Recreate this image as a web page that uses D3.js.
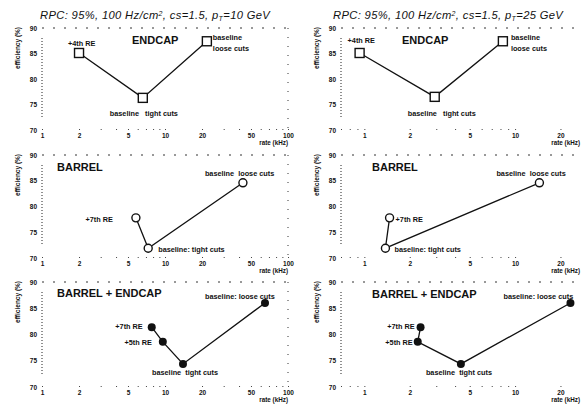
<!DOCTYPE html>
<html><head><meta charset="utf-8">
<script src="https://cdn.jsdelivr.net/npm/d3@7"></script>
<style>body{margin:0;background:#fff}svg{display:block}</style>
</head><body><svg id="c" width="582" height="408"></svg>
<script>
// ---- data ----
const titlesPt = ["10", "25"];
const xTicksLow = [1, 2, 5, 10, 20, 50, 100];
const xTicksHigh = [1, 2, 5, 10, 20];
const yTicks = [70, 75, 80, 85, 90];
const regionNames = ["ENDCAP", "BARREL", "BARREL + ENDCAP"];

const endcapLabels = ["+4th RE", "baseline   tight cuts", "baseline\nloose cuts"];
const endcap10Rate = [2.0, 6.6, 21.9];
const endcap10Eff = [85.1, 76.3, 87.4];
const endcap25Rate = [0.93, 2.93, 8.3];
const endcap25Eff = [85.1, 76.5, 87.4];

const barrelLabels = ["+7th RE", "baseline: tight cuts", "baseline  loose cuts"];
const barrel10Rate = [5.8, 7.3, 43];
const barrel10Eff = [77.8, 71.9, 84.6];
const barrel25Rate = [1.47, 1.38, 14.5];
const barrel25Eff = [77.8, 71.9, 84.6];

const combLabels = ["+7th RE", "+5th RE", "baseline  tight cuts", "baseline: loose cuts"];
const comb10Rate = [7.8, 9.6, 14.0, 65];
const comb10Eff = [81.4, 78.6, 74.4, 86.0];
const comb25Rate = [2.36, 2.26, 4.37, 23.3];
const comb25Eff = [81.4, 78.6, 74.4, 86.0];

// ---- layout ----
const colX = [[42, 288], [341, 587]];
const colDomain = [[1, 100], [0.7, 30]];
const colTicks = [xTicksLow, xTicksHigh];
const rowY = [[28, 130], [155, 258], [282, 387]];

const panels = [
  {col:0,row:0,rate:endcap10Rate,eff:endcap10Eff,labels:endcapLabels,marker:"square",
   off:[[-11,-7,"start"],[-33,18,"start"],[6,-1,"start"]],name:[90,16]},
  {col:1,row:0,rate:endcap25Rate,eff:endcap25Eff,labels:endcapLabels,marker:"square",
   off:[[-12,-10,"start"],[-27,19,"start"],[8,-1,"start"]],name:[61,16]},
  {col:0,row:1,rate:barrel10Rate,eff:barrel10Eff,labels:barrelLabels,marker:"circle",
   off:[[-23,4,"end"],[10,4,"start"],[-38,-7,"start"]],name:[15,16]},
  {col:1,row:1,rate:barrel25Rate,eff:barrel25Eff,labels:barrelLabels,marker:"circle",
   off:[[6,4,"start"],[9,4,"start"],[-43,-7,"start"]],name:[31,16]},
  {col:0,row:2,rate:comb10Rate,eff:comb10Eff,labels:combLabels,marker:"dot",
   off:[[-9,2,"end"],[-11,3,"end"],[-31,11,"start"],[-60,-4,"start"]],name:[15,15]},
  {col:1,row:2,rate:comb25Rate,eff:comb25Eff,labels:combLabels,marker:"dot",
   off:[[-6,2,"end"],[-5,3,"end"],[-35,11,"start"],[-67,-4,"start"]],name:[31,16]}
];

const svg = d3.select("#c");
const FONT = "'Liberation Sans', Arial, Helvetica, sans-serif";
const ink = "#111";

// titles
[0, 1].forEach(c => {
  const t = svg.append("text").attr("x", c === 0 ? 40 : 333).attr("y", 19)
    .attr("font-family", FONT).attr("font-style", "italic").attr("font-size", 11.2)
    .attr("letter-spacing", 0.35).attr("fill", ink);
  t.append("tspan").text("RPC: 95%, 100 Hz/cm");
  t.append("tspan").attr("dy", -3).attr("font-size", 7).text("2");
  t.append("tspan").attr("dy", 3).text(",  cs=1.5,  p");
  t.append("tspan").attr("dy", 2).attr("font-size", 7).text("T");
  t.append("tspan").attr("dy", -2).text("=" + titlesPt[c] + " GeV");
});

panels.forEach((p, i) => {
  const [x0, x1] = colX[p.col];
  const [y0, y1] = rowY[p.row];
  const x = d3.scaleLog().domain(colDomain[p.col]).range([x0, x1]);
  const y = d3.scaleLinear().domain([70, 90]).range([y1, y0]);
  const g = svg.append("g");

  // sparse dotted frame (scanned look)
  g.append("line").attr("x1", x0).attr("x2", x1).attr("y1", y0).attr("y2", y0)
    .attr("stroke", "#333").attr("stroke-width", 1).attr("stroke-dasharray", "2,9");
  g.append("line").attr("x1", x1).attr("x2", x1).attr("y1", y0).attr("y2", y1)
    .attr("stroke", "#333").attr("stroke-width", 1).attr("stroke-dasharray", "1,8");
  g.append("line").attr("x1", x0).attr("x2", x0).attr("y1", y0 + 10).attr("y2", y1 - 12)
    .attr("stroke", "#222").attr("stroke-width", 1).attr("stroke-dasharray", "1,2");

  // x axis
  const minor = [];
  [0.1, 1, 10].forEach(dec => { for (let k = 1; k < 10; k++) minor.push(k * dec); });
  minor.push(100);
  const dom = colDomain[p.col];
  g.append("g").attr("transform", `translate(0,${y1})`)
    .call(d3.axisTop(x).tickValues(minor.filter(v => v >= dom[0] && v <= dom[1])).tickSize(2).tickFormat(""))
    .call(a => a.select(".domain").remove())
    .call(a => a.selectAll("line").attr("stroke", "#444").attr("stroke-dasharray", "1,1"));
  g.append("g").attr("transform", `translate(0,${y1})`)
    .call(d3.axisBottom(x).tickValues(colTicks[p.col]).tickSize(0).tickPadding(3).tickFormat(d3.format("d")))
    .call(a => a.select(".domain").remove())
    .call(a => a.selectAll("text").attr("font-family", FONT).attr("font-weight", "bold")
      .attr("font-size", 6.5).attr("fill", ink));
  g.append("text").attr("x", Math.min(x1, 580)).attr("y", y1 + 15).attr("text-anchor", "end")
    .attr("font-family", FONT).attr("font-weight", "bold").attr("font-size", 6.3)
    .attr("fill", ink).text("rate (kHz)");

  // y axis
  g.append("g").attr("transform", `translate(${x0},0)`)
    .call(d3.axisLeft(y).tickValues(yTicks).tickSize(0).tickPadding(5).tickFormat(d3.format("d")))
    .call(a => a.select(".domain").remove())
    .call(a => a.selectAll("text").attr("font-family", FONT).attr("font-weight", "bold")
      .attr("font-size", 6.5).attr("fill", ink));
  g.append("text").attr("transform", `translate(${x0 - 22},${y0 - 1}) rotate(-90)`)
    .attr("text-anchor", "end").attr("font-family", FONT).attr("font-weight", "bold")
    .attr("font-size", 6.5).attr("fill", ink).text("efficiency (%)");

  // region name
  g.append("text").attr("x", x0 + p.name[0]).attr("y", y0 + p.name[1])
    .attr("font-family", FONT).attr("font-weight", "bold").attr("font-size", 11)
    .attr("fill", ink).text(regionNames[p.row]);

  // line + markers
  const pts = p.rate.map((r, k) => [x(r), y(p.eff[k])]);
  g.append("path").attr("d", d3.line()(pts)).attr("fill", "none")
    .attr("stroke", ink).attr("stroke-width", 1.3);
  pts.forEach(([px, py], k) => {
    if (p.marker === "square") {
      g.append("rect").attr("x", px - 4.5).attr("y", py - 4.5).attr("width", 9).attr("height", 9)
        .attr("fill", "#fff").attr("stroke", ink).attr("stroke-width", 1.4);
    } else if (p.marker === "circle") {
      g.append("circle").attr("cx", px).attr("cy", py).attr("r", 4)
        .attr("fill", "#fff").attr("stroke", ink).attr("stroke-width", 1.4);
    } else {
      g.append("circle").attr("cx", px).attr("cy", py).attr("r", 4).attr("fill", ink);
    }
    const [dx, dy, anchor] = p.off[k];
    const lines = p.labels[k].split("\n");
    const t = g.append("text").attr("x", px + dx).attr("y", py + dy).attr("text-anchor", anchor)
      .attr("font-family", FONT).attr("font-weight", "bold").attr("font-size", 7.3)
      .attr("fill", ink).attr("xml:space", "preserve").style("white-space", "pre");
    lines.forEach((ln, j) => t.append("tspan").attr("x", px + dx).attr("dy", j ? 11 : 0).text(ln));
  });
});
</script></body></html>
